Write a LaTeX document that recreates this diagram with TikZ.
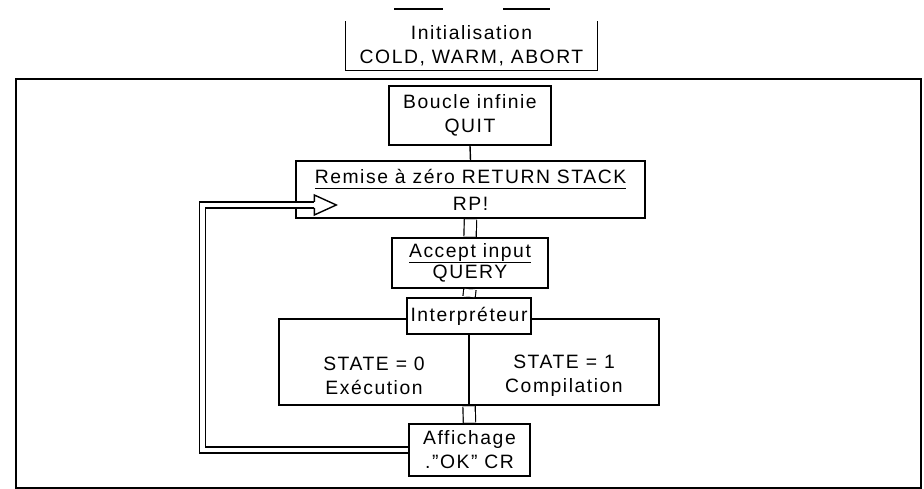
\documentclass[tikz,border=0pt]{standalone}
\usepackage{fontspec}
\setmainfont{Liberation Sans}[LetterSpace=8]
\usetikzlibrary{calc}

\newdimen\pxu \pxu=0.03cm
\newcommand{\uline}[1]{\setbox0\hbox{#1}\rlap{\rule[-5pt]{\wd0}{1pt}}\box0}

\tikzset{
  box/.style={draw, line width=1.2pt, fill=white, align=center, inner sep=0pt},
  txt/.style={align=center, inner sep=0pt},
  pipe/.style={draw, line width=1pt, double, double distance=9.5pt,
    shorten <=0.6pt, shorten >=0.6pt},
  loopline/.style={draw, line width=1pt, double, double distance=4.2pt,
    shorten <=0.6pt},
}

\begin{document}
\begin{tikzpicture}[x=0.03cm, y=-0.03cm, line width=1.2pt,
  font=\fontsize{16.5}{20.5}\selectfont]
  \useasboundingbox (0,0) rectangle (924,489);

  % what is left of the box above
  \draw (394,9) -- (443,9);
  \draw (503,9) -- (550,9);
  \node[txt, minimum width=251\pxu, minimum height=48\pxu] (init) at (471.5,46)
    {Initialisation\\COLD, WARM, ABORT};
  \draw (init.north west) |- (init.south east) -- (init.north east);

  % frame
  \draw (16,79) rectangle (921,488);

  \node[box, minimum width=162\pxu, minimum height=59\pxu] (boucle) at (470,115.5)
    {Boucle infinie\\QUIT};
  \node[box, fill=none, minimum width=349\pxu, minimum height=57\pxu] (remise) at (470.5,189.5)
    {\uline{Remise à zéro RETURN STACK}\\[2.5pt]RP!};
  \node[box, minimum width=156\pxu, minimum height=50\pxu] (accept) at (470,263)
    {\uline{Accept input}\\[-2.5pt]QUERY};
  \node[box, minimum width=380\pxu, minimum height=86\pxu] (etat) at (469,362) {};
  \node[box, minimum width=124\pxu, minimum height=36\pxu] (interp) at (469,316)
    {Interpréteur};
  \node[txt] (exec) at (374,376) {STATE = 0\\Exécution};
  \node[txt] (comp) at (564,376) {STATE = 1\\Compilation};
  \node[box, minimum width=121\pxu, minimum height=52\pxu] (affich) at (469.5,450)
    {Affichage\\.''OK'' CR};

  \draw (interp.south) -- (interp.south |- etat.south);

  \draw (boucle.south) -- (remise.north);
  \draw[pipe] (remise.south) -- (accept.north);
  \draw[pipe] (accept.south) -- (interp.north);
  \draw[pipe] (etat.south) -- (affich.north);

  % back to QUIT
  \coordinate (rpin) at ($(remise.west)+(19,15.5)$);
  \draw[loopline] (affich.west) -- ++(-206,0) |- (rpin);
  \draw (rpin) ++(0,-3) -- ++(0,-7) -- ++(22,10) -- ++(-22,10) -- ++(0,-7);
\end{tikzpicture}
\end{document}
